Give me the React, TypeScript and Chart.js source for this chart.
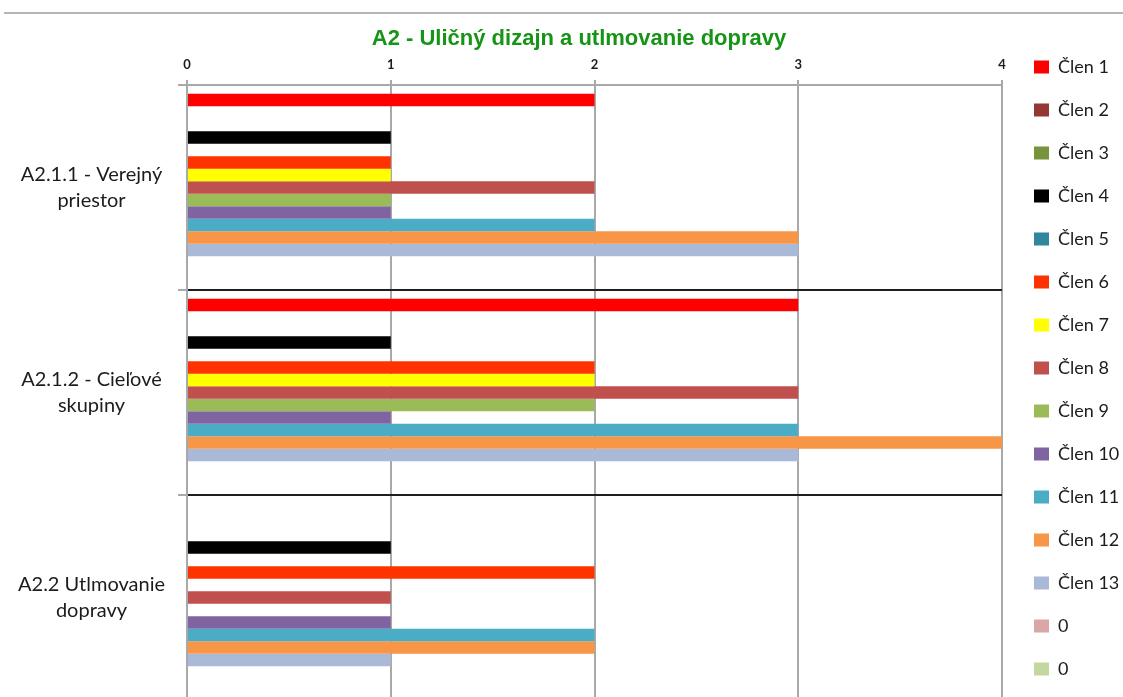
import React, { useEffect, useRef } from 'react';
import { Chart, registerables } from 'chart.js';

Chart.register(...registerables);

// ---------- data ----------
const chartTitle = 'A2 - Uličný dizajn a utlmovanie dopravy';
const categories = [
  ['A2.1.1 - Verejný', 'priestor'],
  ['A2.1.2 - Cieľové', 'skupiny'],
  ['A2.2 Utlmovanie', 'dopravy'],
];
const seriesNames = [
  'Člen 1', 'Člen 2', 'Člen 3', 'Člen 4', 'Člen 5', 'Člen 6', 'Člen 7',
  'Člen 8', 'Člen 9', 'Člen 10', 'Člen 11', 'Člen 12', 'Člen 13', '0', '0',
];
const clen1 = [2, 3, 0];
const clen2 = [0, 0, 0];
const clen3 = [0, 0, 0];
const clen4 = [1, 1, 1];
const clen5 = [0, 0, 0];
const clen6 = [1, 2, 2];
const clen7 = [1, 2, 0];
const clen8 = [2, 3, 1];
const clen9 = [1, 2, 0];
const clen10 = [1, 1, 1];
const clen11 = [2, 3, 2];
const clen12 = [3, 4, 2];
const clen13 = [3, 3, 1];
const zeroA = [0, 0, 0];
const zeroB = [0, 0, 0];
const seriesValues = [clen1, clen2, clen3, clen4, clen5, clen6, clen7, clen8, clen9, clen10, clen11, clen12, clen13, zeroA, zeroB];
const xMin = 0;
const xMax = 4;
const xStep = 1;

// ---------- styles ----------
const seriesColors = [
  '#FF0000', '#953735', '#77933C', '#000000', '#31859C', '#FF3300', '#FFFF00',
  '#C0504D', '#9BBB59', '#8064A2', '#4BACC6', '#F79646', '#AAB9D8', '#D9A7A6', '#C4D79E',
];

const W = 1123;
const H = 710;
const AREA_LEFT = 187;
const AREA_RIGHT = 1002;
const AREA_TOP = 85;
const AREA_BOTTOM = 700;
const PAD_TOP = 33;
const LEG_PAD = 25;
const LEG_BOX_W = 15;
const LEG_BOX_H = 13;
const LEG_BOX_X = 1034;
const FONT_FAMILY = 'Lato';
const LABEL_SIZE = 20;
const LEGEND_SIZE = 18;
const GRID_GRAY = '#a9a9a9';
const TEXT_COLOR = '#1c1c1c';

function measure(font: string, texts: string[]) {
  const c = document.createElement('canvas').getContext('2d')!;
  c.font = font;
  return Math.max(...texts.map((t) => c.measureText(t).width));
}

export default function App() {
  const ref = useRef<HTMLCanvasElement>(null);

  useEffect(() => {
    const widestLabel = measure(`${LABEL_SIZE}px ${FONT_FAMILY}`, categories.flat());
    const yTickPad = AREA_LEFT - 9 - 91.5 - widestLabel / 2;
    const legendTextW = measure(`${LEGEND_SIZE}px ${FONT_FAMILY}`, seriesNames);
    const legendWidth = LEG_PAD + LEG_BOX_W + LEGEND_SIZE / 2 + legendTextW + 10;
    const padRight = W - (LEG_BOX_X - LEG_PAD) - legendWidth;

    const decor = {
      id: 'decor',
      beforeDraw(chart: any) {
        const ctx = chart.ctx;
        ctx.save();
        ctx.fillStyle = '#ffffff';
        ctx.fillRect(0, 0, chart.width, chart.height);
        ctx.fillStyle = '#b5b5b5';
        ctx.fillRect(4, 12, W - 4, 2);
        ctx.font = 'bold 22px "Liberation Sans"';
        ctx.fillStyle = '#169416';
        ctx.textAlign = 'center';
        ctx.textBaseline = 'alphabetic';
        ctx.fillText(chartTitle, 579, 45);
        ctx.restore();
      },
    };

    const chart = new Chart(ref.current!, {
      type: 'bar',
      data: {
        labels: categories,
        datasets: seriesNames.map((name, i) => ({
          label: name,
          data: seriesValues[i],
          backgroundColor: seriesColors[i],
          borderWidth: 0,
          barPercentage: 1,
          categoryPercentage: 0.915,
          xAxisID: 'x',
          yAxisID: 'y',
        })),
      },
      options: {
        indexAxis: 'y',
        responsive: false,
        animation: false,
        devicePixelRatio: 1,
        events: [],
        layout: { padding: { top: PAD_TOP, left: 0, right: padRight, bottom: 0 } },
        plugins: {
          title: { display: false },
          tooltip: { enabled: false },
          legend: {
            display: true,
            position: 'right',
            align: 'start',
            labels: {
              boxWidth: LEG_BOX_W,
              boxHeight: LEG_BOX_H,
              padding: LEG_PAD,
              color: TEXT_COLOR,
              font: { family: FONT_FAMILY, size: LEGEND_SIZE },
            },
          },
        },
        scales: {
          x: {
            type: 'linear',
            position: 'top',
            min: xMin,
            max: xMax,
            ticks: {
              stepSize: xStep,
              color: TEXT_COLOR,
              padding: 7,
              font: { family: FONT_FAMILY, size: 13, weight: 'bold' },
            },
            grid: { color: GRID_GRAY, lineWidth: 2, tickLength: 5, tickColor: GRID_GRAY },
            border: { color: GRID_GRAY, width: 2 },
            afterFit: (s: any) => { s.height = AREA_TOP - PAD_TOP; },
          },
          y: {
            type: 'category',
            position: 'left',
            offset: true,
            ticks: {
              crossAlign: 'center',
              padding: yTickPad,
              color: TEXT_COLOR,
              font: { family: FONT_FAMILY, size: LABEL_SIZE, lineHeight: 26 / LABEL_SIZE },
            },
            grid: {
              offset: true,
              color: (c: any) => (c.index === 0 ? GRID_GRAY : '#1e1e1e'),
              lineWidth: 2,
              tickLength: 9,
              tickColor: GRID_GRAY,
            },
            border: { color: GRID_GRAY, width: 2 },
            afterFit: (s: any) => {
              s.width = AREA_LEFT;
              s.paddingTop = 0;
              s.paddingBottom = 0;
            },
          },
          yr: {
            type: 'linear',
            position: 'right',
            display: true,
            ticks: { display: false },
            grid: { display: false, drawTicks: false },
            border: { display: false },
            afterFit: (s: any) => {
              s.width = W - padRight - s.chart.legend.width - AREA_RIGHT;
              s.paddingTop = 0;
              s.paddingBottom = 0;
            },
          },
          xb: {
            type: 'linear',
            position: 'bottom',
            display: true,
            ticks: { display: false },
            grid: { display: false, drawTicks: false },
            border: { display: false },
            afterFit: (s: any) => {
              s.height = H - AREA_BOTTOM;
              s.paddingLeft = 0;
              s.paddingRight = 0;
            },
          },
        },
      } as any,
      plugins: [decor],
    });
    return () => chart.destroy();
  }, []);

  return (
    <div style={{ position: 'fixed', left: 0, top: 0, width: W, height: 697, overflow: 'hidden', background: '#fff' }}>
      <canvas ref={ref} width={W} height={H} style={{ display: 'block' }} />
    </div>
  );
}
